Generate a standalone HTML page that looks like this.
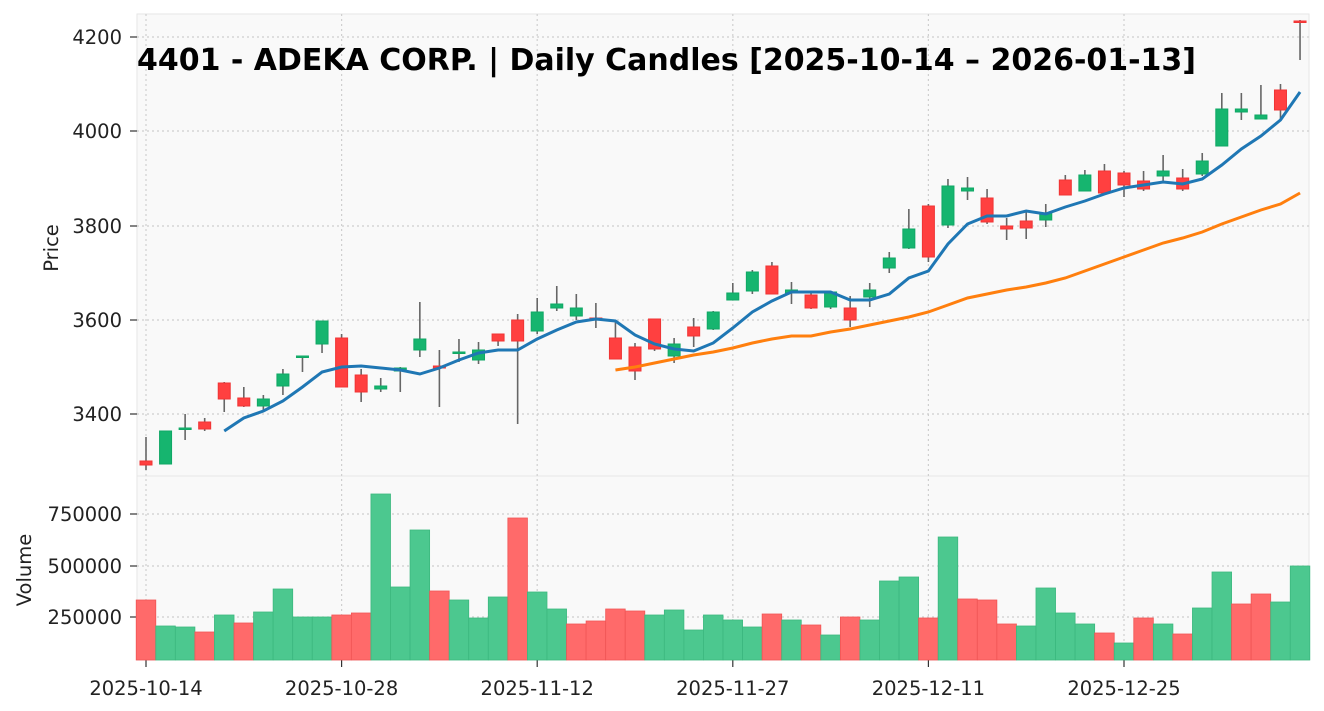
<!DOCTYPE html>
<html><head><meta charset="utf-8"><style>
html,body{margin:0;padding:0;background:#fff;}
svg{display:block;font-family:"DejaVu Sans","Liberation Sans",sans-serif;}
</style></head><body>
<svg id="s" width="1324" height="711" xmlns="http://www.w3.org/2000/svg"></svg>
<script>
const C=[
[461,465,437,470,'r'],[431,464,431,464,'g'],[428,429.5,414,440,'g'],[422,429,418,431,'r'],[383,399,382,412,'r'],
[398,406,387,407,'r'],[399,406,395,410,'g'],[374,386,369,395,'g'],[356,357.5,356,372,'g'],[321,344,321,353,'g'],
[338,387,334,387,'r'],[375,392,369,402,'r'],[386,389,378,392,'g'],[368,371,367,392,'g'],[339,350,302,357,'g'],
[366,368,350,407,'r'],[352,353.5,339,362,'g'],[350,360,342,364,'g'],[334,341,334,346,'r'],[320,341,314,424,'r'],
[312,331,298,334,'g'],[304,308,286,311,'g'],[308,316,294,320,'g'],[318,320,303,328,'r'],[338,359,320,359,'r'],
[347,371,343,380,'r'],[319,349,319,351,'r'],[344,356,338,363,'g'],[327,336,318,347,'r'],[312,329,311,330,'g'],
[293,300,283,300,'g'],[272,291,270,294,'g'],[266,294,262,294,'r'],[290,293,282,304,'g'],[295,308,293,309,'r'],
[292,307,291,309,'g'],[308,320,296,327,'r'],[290,297,283,307,'g'],[258,268,252,273,'g'],[229,248,209,249,'g'],
[206,257,204,262,'r'],[186,225,179,228,'g'],[188,191,177,200,'g'],[198,222,189,224,'r'],[226,229,218,240,'r'],
[221,228,212,239,'r'],[213,220,204,227,'g'],[180,195,175,195,'r'],[175,191,170,191,'g'],[171,193,164,193,'r'],
[173,185,171,197,'r'],[181,189,171,191,'r'],[171,176,155,181,'g'],[178,189,169,191,'r'],[161,174,153,176,'g'],
[109,146,93,146,'g'],[109,112,93,120,'g'],[115,119,85,119,'g'],[90,110,84,120,'r'],[21,22.5,20,60,'r']];
const MA1=[431,418,411,401,387,372,367,366,368,370,374,368,360,353,350,350,339,330,322,319,321,335,344,349,351,343,328,312,301,292,292,292,300,300,294,278,271,244,224,216,216,211,214,207,201,194,188,185,182,184,179,165,149,136,120,92];
const MA2=[370,367,363,359,355,352,348,343,339,336,336,332,329,325,321,317,312,305,298,294,290,287,283,278,271,264,257,250,243,238,232,224,217,210,204,193];
const V=[[600,'r'],[626,'g'],[627,'g'],[632,'r'],[615,'g'],[623,'r'],[612,'g'],[589,'g'],[617,'g'],[617,'g'],[615,'r'],[613,'r'],[494,'g'],[587,'g'],[530,'g'],[591,'r'],[600,'g'],[618,'g'],[597,'g'],[518,'r'],[592,'g'],[609,'g'],[624,'r'],[621,'r'],[609,'r'],[611,'r'],[615,'g'],[610,'g'],[630,'g'],[615,'g'],[620,'g'],[627,'g'],[614,'r'],[620,'g'],[625,'r'],[635,'g'],[617,'r'],[620,'g'],[581,'g'],[577,'g'],[618,'r'],[537,'g'],[599,'r'],[600,'r'],[624,'r'],[626,'g'],[588,'g'],[613,'g'],[624,'g'],[633,'r'],[643,'g'],[618,'r'],[624,'g'],[634,'r'],[608,'g'],[572,'g'],[604,'r'],[594,'r'],[602,'g'],[566,'g']];
const X=i=>146+19.56*i;
let h='';
h+='<rect x="137" y="14" width="1172" height="462" fill="#f9f9f9" stroke="#e6e6e6"/>';
h+='<rect x="137" y="476" width="1172" height="184" fill="#f9f9f9" stroke="#e6e6e6"/>';
const gl='stroke="#cfcfcf" stroke-width="1.2" stroke-dasharray="2,3"';
[[4200,37],[4000,131],[3800,226],[3600,320],[3400,414],[750000,514],[500000,566],[250000,617]].forEach(([t,y])=>{
 h+=`<line x1="137" x2="1309" y1="${y}" y2="${y}" ${gl}/>`;
 h+=`<line x1="130" x2="137" y1="${y}" y2="${y}" stroke="#333" stroke-width="1.2"/>`;
 h+=`<text x="122" y="${y+7}" font-size="19.5" text-anchor="end" fill="#222">${t}</text>`;});
['2025-10-14','2025-10-28','2025-11-12','2025-11-27','2025-12-11','2025-12-25'].forEach((d,k)=>{
 const x=X(k*10);
 h+=`<line x1="${x}" x2="${x}" y1="14" y2="660" ${gl}/>`;
 h+=`<line x1="${x}" x2="${x}" y1="660" y2="667" stroke="#333" stroke-width="1.2"/>`;
 h+=`<text x="${x}" y="695" font-size="19.5" text-anchor="middle" fill="#222">${d}</text>`;});
V.forEach(([y,c],i)=>{const x=X(i)-9.78;
 h+=`<rect x="${x}" y="${y}" width="19.56" height="${660-y}" fill="${c=='g'?'#4cc88f':'#ff6a6a'}" stroke="${c=='g'?'#3cb87f':'#f05555'}" stroke-width="0.8"/>`;});
C.forEach(([t,b,hi,lo,c],i)=>{const x=X(i);const col=c=='g'?'#16b56f':'#ff4040';
 h+=`<line x1="${x}" x2="${x}" y1="${hi}" y2="${lo}" stroke="#666" stroke-width="1.6"/>`;
 h+=`<rect x="${x-6}" y="${t}" width="12" height="${Math.max(b-t,1.5)}" fill="${col}" stroke="${c=='g'?'#10a865':'#f03535'}" stroke-width="1"/>`;});
h+=`<polyline fill="none" stroke="#1f77b4" stroke-width="3" points="${MA1.map((y,k)=>X(k+4)+','+y).join(' ')}"/>`;
h+=`<polyline fill="none" stroke="#ff7f0e" stroke-width="3" points="${MA2.map((y,k)=>X(k+24)+','+y).join(' ')}"/>`;
h+='<text x="137" y="70" font-size="30" font-weight="bold" fill="#000" textLength="1059" lengthAdjust="spacingAndGlyphs">4401 - ADEKA CORP. | Daily Candles [2025-10-14 – 2026-01-13]</text>';
h+='<text transform="translate(58,248) rotate(-90)" font-size="19.5" text-anchor="middle" fill="#222">Price</text>';
h+='<text transform="translate(31,570) rotate(-90)" font-size="19.5" text-anchor="middle" fill="#222">Volume</text>';
document.getElementById('s').innerHTML=h;
</script>
</body></html>
